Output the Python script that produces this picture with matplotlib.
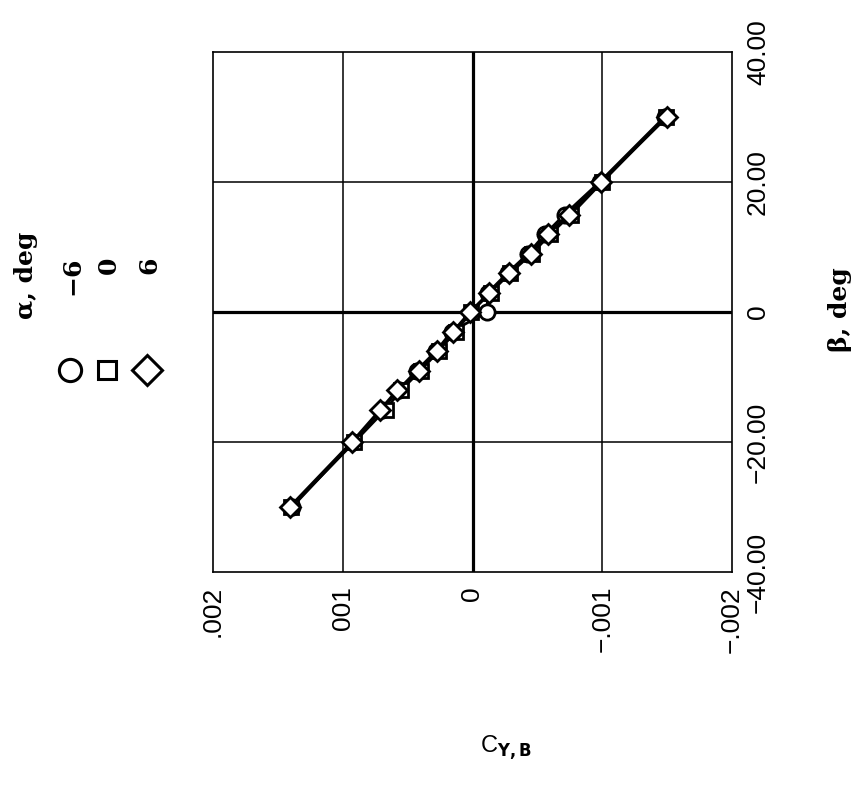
import numpy as np
import matplotlib
matplotlib.use("Agg")
import matplotlib.pyplot as plt

# ---------------------------------------------------------------
# data (chart is printed rotated 90 deg: C_Y,B runs left->right, beta runs up)
beta = [-30, -20, -15, -12, -9, -6, -3, 0, 3, 6, 9, 12, 15, 20, 30]
cyb_am6 = [0.00139, 0.00092, 0.00070, 0.00057, 0.00043, 0.00028, 0.00016,
           -0.00011, -0.00012, -0.00027, -0.00043, -0.00056, -0.00071, -0.00098, -0.00148]
cyb_a0 = [0.00140, 0.00091, 0.00067, 0.00055, 0.00040, 0.00026, 0.00013,
          0.00001, -0.00014, -0.00029, -0.00046, -0.00060, -0.00076, -0.00100, -0.00149]
cyb_a6 = [0.00141, 0.00093, 0.00071, 0.00058, 0.00041, 0.00027, 0.00015,
          0.00002, -0.00013, -0.00028, -0.00045, -0.00058, -0.00074, -0.00099, -0.00150]
alpha_labels = ['\u22126', '0', '6']
x_ticks = [0.002, 0.001, 0, -0.001, -0.002]
x_ticklabels = ['.002', '001', '0', '\u2212.001', '\u2212.002']
y_ticks = [-40, -20, 0, 20, 40]
y_ticklabels = ['\u221240.00', '\u221220.00', '0', '20.00', '40.00']
#---------------------------------------------------------------

W, H = 858, 802
fig = plt.figure(figsize=(W / 100, H / 100), dpi=100)
ax = fig.add_axes([213 / W, 1 - 572 / H, (732 - 213) / W, (572 - 52) / H])

series = [(cyb_am6, 'o', 11), (cyb_a0, 's', 10), (cyb_a6, 'D', 10)]
for vals, mk, ms in series:
    ax.plot(vals, beta, color='black', lw=2.0, marker=mk, ms=ms,
            mfc='white', mec='black', mew=2.0, zorder=3)

ax.set_xlim(0.002, -0.002)
ax.set_ylim(-40, 40)

# grid
for xv in [0.001, -0.001]:
    ax.axvline(xv, color='black', lw=1.1, zorder=1)
for yv in [-20, 20]:
    ax.axhline(yv, color='black', lw=1.1, zorder=1)
ax.axvline(0, color='black', lw=2.3, zorder=1)
ax.axhline(0, color='black', lw=2.3, zorder=1)
for sp in ax.spines.values():
    sp.set_linewidth(1.2)

ax.set_xticks(x_ticks)
ax.set_xticklabels(x_ticklabels, rotation=90, fontsize=19, family='Liberation Sans', va='top')
ax.set_yticks(y_ticks)
ax.yaxis.tick_right()
ax.set_yticklabels(y_ticklabels, rotation=90, fontsize=19, family='Liberation Sans', va='center')
ax.tick_params(length=0, pad=10)

# overlay in pixel coords for the legend and axis titles
ov = fig.add_axes([0, 0, 1, 1])
ov.set_xlim(0, W)
ov.set_ylim(H, 0)
ov.axis('off')

serif = 'DejaVu Serif'
ov.text(26, 275, '\u03b1, deg', rotation=90, ha='center', va='center',
        fontsize=18, family=serif, fontweight='bold')
leg_x = [72, 109, 149]
leg_mk = [('o', 16), ('s', 13), ('D', 15)]
for x, lab, (mk, ms) in zip(leg_x, alpha_labels, leg_mk):
    ov.text(x, 257, lab, rotation=90, ha='center', va='top',
            fontsize=18, family=serif, fontweight='bold')
    ov.plot([x - 2], [370], marker=mk, ms=ms, mfc='white', mec='black', mew=2.2)

ov.text(840, 310, '\u03b2, deg', rotation=90, ha='center', va='center',
        fontsize=18, family=serif, fontweight='bold')
ov.text(480, 748, r'C$_{\mathbf{Y,B}}$', ha='left', va='center',
        fontsize=17, family='Liberation Sans')

fig.savefig('out.png', dpi=100)
